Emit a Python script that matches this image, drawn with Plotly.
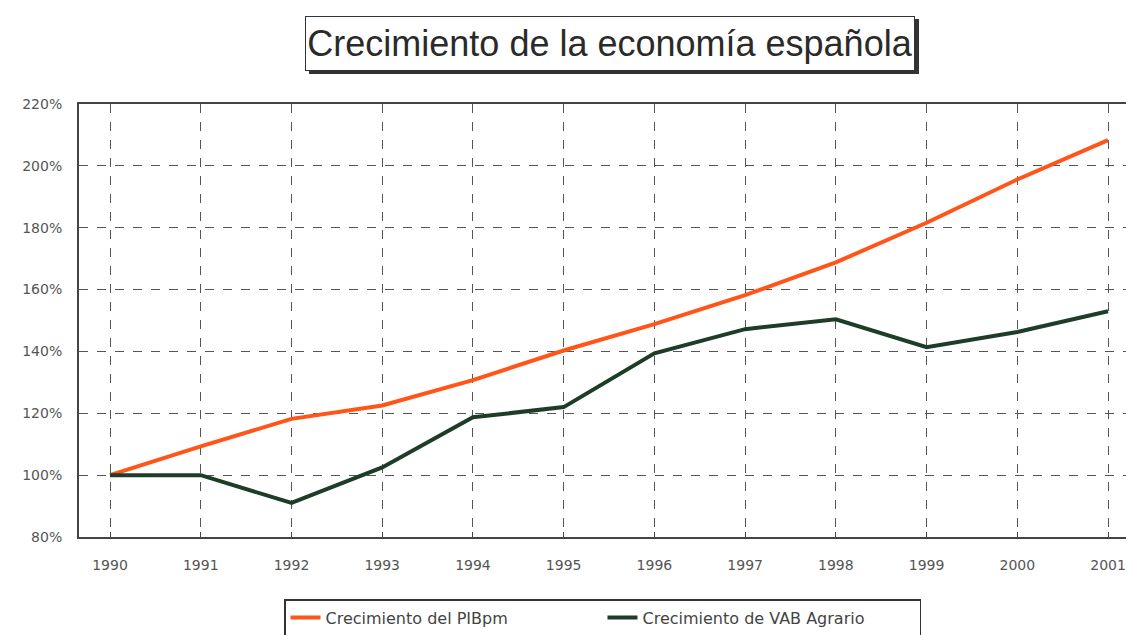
import plotly.graph_objects as go

years = [1990, 1991, 1992, 1993, 1994, 1995, 1996, 1997, 1998, 1999, 2000, 2001]
pib = [100, 109.3, 118.2, 122.5, 130.7, 140.3, 148.8, 158.2, 168.8, 181.6, 195.6, 208.3]
vab = [100, 100, 91, 102.5, 118.7, 122.0, 139.4, 147.2, 150.4, 141.4, 146.3, 153.0]
y_ticks = [80, 100, 120, 140, 160, 180, 200, 220]
y_labels = ["80%", "100%", "120%", "140%", "160%", "180%", "200%", "220%"]
title_text = "Crecimiento de la economía española"

fig = go.Figure()
fig.add_trace(go.Scatter(x=years, y=pib, mode="lines", name="Crecimiento del PIBpm",
                         line=dict(color="#FF5519", width=4)))
fig.add_trace(go.Scatter(x=years, y=vab, mode="lines", name="Crecimiento de VAB Agrario",
                         line=dict(color="#1E3D28", width=4)))

grid = dict(showgrid=True, gridcolor="#555555", griddash="dash", gridwidth=1,
            showline=True, linecolor="#444444", linewidth=2, mirror=True, zeroline=False)

tickfont = dict(family="DejaVu Sans, sans-serif", size=14, color="#555555")

# page body adds an 8px offset; figure is sized to fill the remaining window
fig.update_layout(
    width=1126, height=627,
    margin=dict(l=71, r=4, t=96, b=98, autoexpand=False),
    paper_bgcolor="white", plot_bgcolor="white",
    font=dict(family="DejaVu Sans, sans-serif", color="#444444", size=14),
    xaxis=dict(range=[1989.658, 2001.242], tickvals=years, ticktext=[str(y) for y in years],
               ticks="inside", ticklen=5, tickcolor="#444444", tickfont=tickfont,
               ticklabelstandoff=14, **grid),
    yaxis=dict(range=[80, 220], tickvals=y_ticks, ticktext=y_labels,
               ticks="", tickfont=tickfont, ticklabelstandoff=12, **grid),
    showlegend=True,
    legend=dict(orientation="h", x=(284 - 79) / 1051, xanchor="left",
                y=-(599 - 537) / 433, yanchor="top",
                bordercolor="#333333", borderwidth=1.5, bgcolor="white",
                entrywidth=272, font=dict(size=16, color="#444444"),
                itemwidth=30),
)

# title box with shadow
fig.add_shape(type="rect", xref="paper", yref="paper",
              x0=(309 - 79) / 1051, x1=(919 - 79) / 1051,
              y0=(537 - 74) / 433, y1=(537 - 19) / 433,
              fillcolor="#333333", line=dict(width=0), layer="above")
fig.add_annotation(text=title_text, xref="paper", yref="paper",
                   x=(610 - 79) / 1051, y=(537 - 43) / 433, showarrow=False,
                   xanchor="center", yanchor="middle",
                   font=dict(size=36, color="#2a2a2a", family="Arial, Liberation Sans, sans-serif"),
                   bgcolor="white", bordercolor="#333333", borderwidth=1,
                   borderpad=0, width=608, height=53)

fig.write_html("out.html")
